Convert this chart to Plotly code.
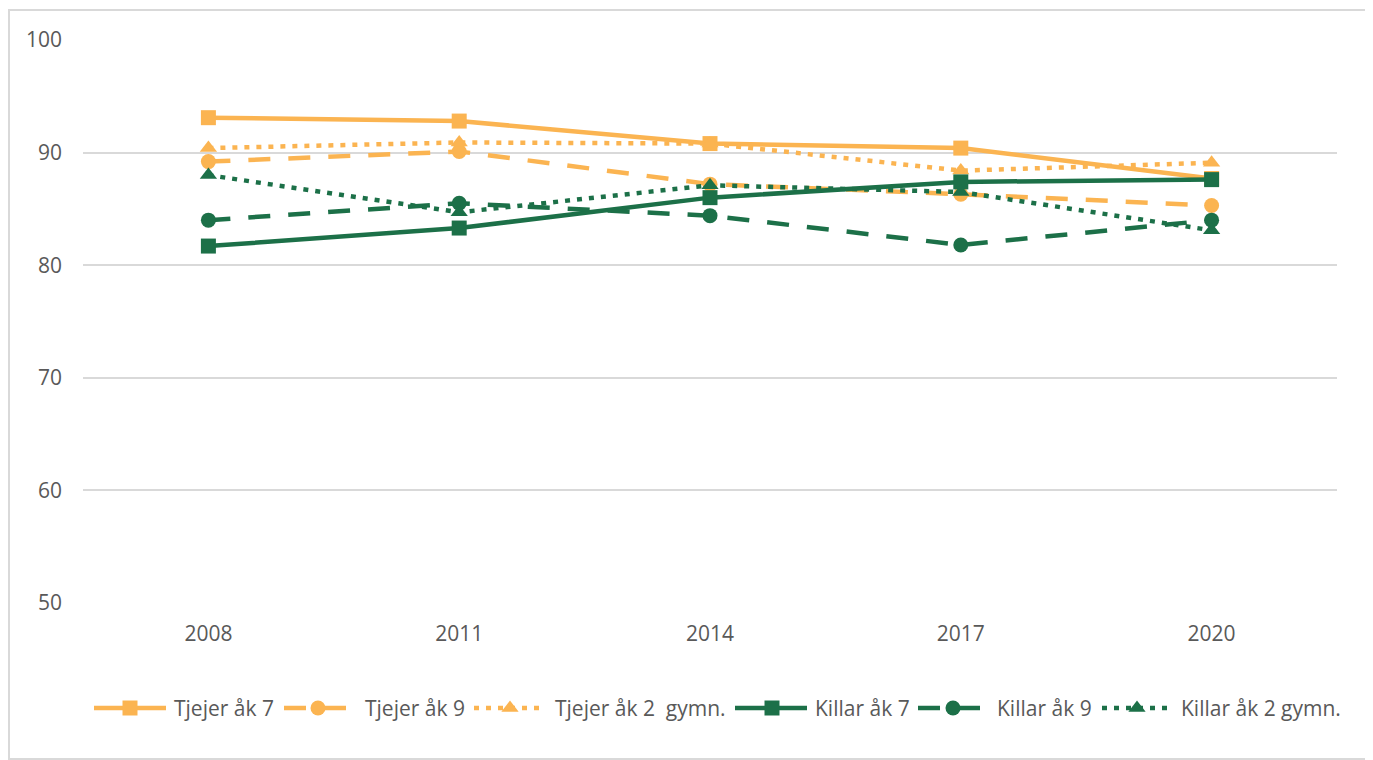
import plotly.graph_objects as go

years = ["2008", "2011", "2014", "2017", "2020"]

tjejer_ak7 = [93.1, 92.8, 90.8, 90.4, 87.7]
tjejer_ak9 = [89.2, 90.1, 87.2, 86.3, 85.3]
tjejer_gymn = [90.4, 90.9, 90.8, 88.4, 89.1]
killar_ak7 = [81.7, 83.3, 86.0, 87.4, 87.6]
killar_ak9 = [84.0, 85.5, 84.4, 81.8, 84.0]
killar_gymn = [88.0, 84.7, 87.1, 86.5, 83.1]

ORANGE = "#FBB451"
GREEN = "#1C7048"
TEXT = "#595959"
GRID = "#D9D9D9"

series = [
    ("Tjejer åk 7", tjejer_ak7, ORANGE, "solid", "square"),
    ("Tjejer åk 9", tjejer_ak9, ORANGE, "22px,18px", "circle"),
    ("Tjejer åk 2  gymn.", tjejer_gymn, ORANGE, "5px,7px", "triangle-up"),
    ("Killar åk 7", killar_ak7, GREEN, "solid", "square"),
    ("Killar åk 9", killar_ak9, GREEN, "22px,18px", "circle"),
    ("Killar åk 2 gymn.", killar_gymn, GREEN, "5px,7px", "triangle-up"),
]

# Excel-style legend (long line samples), laid out in page pixels:
# (line start, line end, marker x, text start)
legend_slots = [(94, 166, 130, 172), (284, 350, 318, 363), (474, 542, 510, 553),
                (735, 807, 772, 813), (918, 983, 953, 995), (1102, 1168, 1137, 1179)]
legend_y = 708

# page has an 8px body margin; figure coords = page coords - 8
L, T, W = 75, 32, 1254
B = 26
paper_h = 760 - T - B
plot_bottom_page = 603
paper_bottom_page = 760 - B + 8
dom_split = (paper_bottom_page - plot_bottom_page) / paper_h

fig = go.Figure()
for name, vals, color, dash, symbol in series:
    fig.add_trace(go.Scatter(
        x=years, y=vals, name=name, mode="lines+markers",
        line=dict(color=color, width=4.5, dash=dash),
        marker=dict(color=color, size=15, symbol=symbol),
        showlegend=False,
    ))

annotations = []
for (name, vals, color, dash, symbol), (x0, x1, xm, xt) in zip(series, legend_slots):
    fig.add_trace(go.Scatter(
        x=[x0, x1], y=[legend_y, legend_y], mode="lines", xaxis="x2", yaxis="y2",
        line=dict(color=color, width=4.5, dash=dash), showlegend=False, hoverinfo="skip",
    ))
    fig.add_trace(go.Scatter(
        x=[xm], y=[legend_y], mode="markers", xaxis="x2", yaxis="y2",
        marker=dict(color=color, size=15, symbol=symbol), showlegend=False, hoverinfo="skip",
    ))
    annotations.append(dict(
        x=xt, y=legend_y, xref="x2", yref="y2", text=name, showarrow=False,
        xanchor="left", yanchor="middle", font=dict(size=21, color=TEXT),
    ))

fig.update_layout(
    width=1373, height=760,
    margin=dict(l=L, r=1373 - L - W, t=T, b=B),
    paper_bgcolor="white", plot_bgcolor="white",
    font=dict(family="Open Sans, sans-serif", size=21, color=TEXT),
    showlegend=False,
    xaxis=dict(type="category", range=[-0.5, 4.5], showgrid=False, zeroline=False,
               showline=False, ticks="", ticklabelstandoff=16,
               tickfont=dict(size=21, color=TEXT), anchor="y"),
    yaxis=dict(domain=[dom_split, 1], range=[50, 100], dtick=10, showgrid=True,
               gridcolor=GRID, gridwidth=1.5, zeroline=False, showline=False, ticks="",
               ticklabelstandoff=20, tickfont=dict(size=21, color=TEXT), anchor="x"),
    xaxis2=dict(domain=[0, 1], range=[L + 8, L + W + 8], visible=False, anchor="y2"),
    yaxis2=dict(domain=[0, dom_split], range=[paper_bottom_page, plot_bottom_page],
                visible=False, anchor="x2"),
    annotations=annotations,
    shapes=[dict(type="rect", xref="paper", yref="paper",
                 x0=(1 - L) / W, x1=(1360 - L) / W,
                 y0=(760 - B - 751) / paper_h, y1=(760 - B - 2) / paper_h,
                 line=dict(color=GRID, width=2), fillcolor="rgba(0,0,0,0)")],
)

fig.write_html("out.html")
